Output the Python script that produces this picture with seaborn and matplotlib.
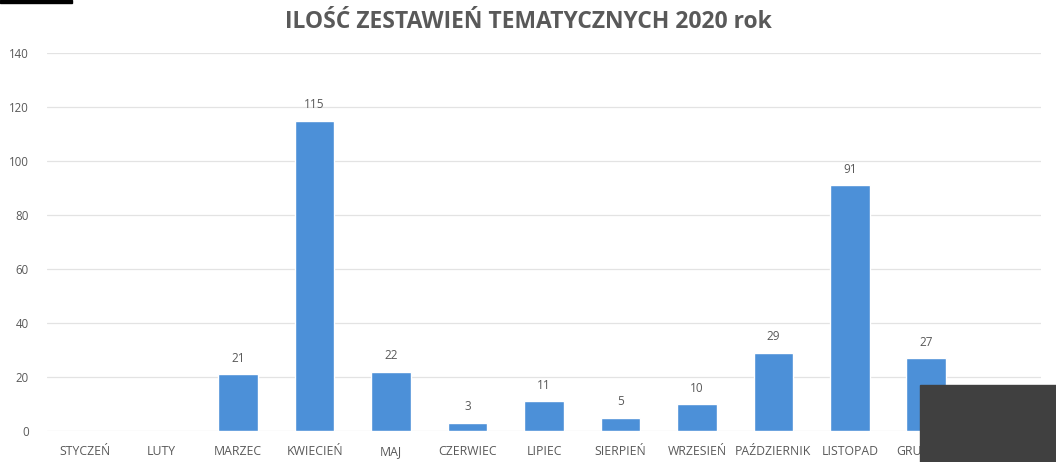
import matplotlib.pyplot as plt
import matplotlib.patches as patches
import pandas as pd
import seaborn as sns

months = ["STYCZEŃ", "LUTY", "MARZEC", "KWIECIEŃ", "MAJ", "CZERWIEC", "LIPIEC",
          "SIERPIEŃ", "WRZESIEŃ", "PAŹDZIERNIK", "LISTOPAD", "GRUDZIEŃ"]
counts = [0, 0, 21, 115, 22, 3, 11, 5, 10, 29, 91, 27]
y_ticks = [0, 20, 40, 60, 80, 100, 120, 140]

BAR_COLOR = "#4C90D8"
TEXT_COLOR = "#595959"

sns.set_theme(style="white")
plt.rcParams["font.family"] = ["Open Sans", "DejaVu Sans"]

df = pd.DataFrame({"month": months, "count": counts})

fig = plt.figure(figsize=(10.56, 4.62), dpi=100)
ax = fig.add_axes([47 / 1056, 31 / 462, 994 / 1056, 378 / 462])

sns.barplot(data=df, x="month", y="count", color=BAR_COLOR, width=0.52,
            saturation=1, ax=ax, zorder=3)

for i, v in enumerate(counts):
    if v > 0:
        ax.text(i, v + 3.5, str(v), ha="center", va="bottom", fontsize=8.5, color=TEXT_COLOR)

ax.set_xlim(-0.5, 12.5)
ax.set_ylim(0, 140)
ax.set_yticks(y_ticks)
ax.yaxis.grid(True, color="#E3E3E3", linewidth=0.9, zorder=0)
ax.set_axisbelow(True)
for s in ax.spines.values():
    s.set_visible(False)
ax.set_xlabel("")
ax.set_ylabel("")
ax.tick_params(axis="x", labelsize=8.8, labelcolor=TEXT_COLOR, length=0, pad=10)
ax.tick_params(axis="y", labelsize=8.3, labelcolor=TEXT_COLOR, length=0, pad=13)

fig.text(0.5, 0.953, "ILOŚĆ ZESTAWIEŃ TEMATYCZNYCH 2020 rok", ha="center", va="center",
         fontsize=16.5, fontweight="bold", color=TEXT_COLOR)

# redaction boxes present in the screenshot
fig.patches.append(patches.Rectangle((0, 1 - 3 / 462), 72 / 1056, 3 / 462,
                                     transform=fig.transFigure, color="black", zorder=10))
fig.patches.append(patches.Rectangle((920 / 1056, 0), 136 / 1056, 77 / 462,
                                     transform=fig.transFigure, color="#404040", zorder=10))

fig.savefig("out.png", dpi=100)
